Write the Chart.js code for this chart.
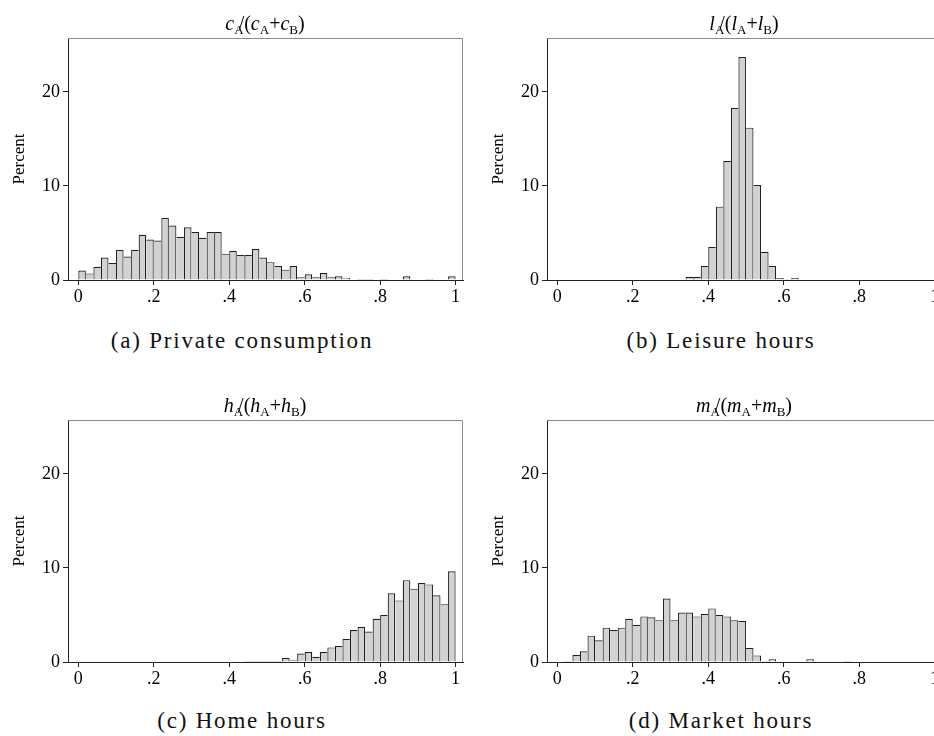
<!DOCTYPE html>
<html>
<head>
<meta charset="utf-8">
<script src="https://cdn.jsdelivr.net/npm/chart.js@4.4.1/dist/chart.umd.min.js"></script>
<style>
  html, body { margin: 0; padding: 0; background: #fff; overflow: hidden; }
  #page { position: relative; width: 934px; height: 736px; }
  canvas { position: absolute; }
  .ttl {
    position: absolute; transform: translateX(-50%); white-space: nowrap;
    font-family: "Liberation Serif", serif; font-size: 20px; line-height: 20px; color: #000;
  }
  .ttl i { font-style: italic; }
  .ttl sub { font-size: 13px; vertical-align: baseline; position: relative; top: 4px; line-height: 0; }
  .ttl .sl { margin-left: -5px; }
  .cap {
    position: absolute; transform: translateX(-50%); white-space: nowrap;
    font-family: "Liberation Serif", serif; font-size: 23px; line-height: 23px; letter-spacing: 1.8px; color: #111;
  }
</style>
</head>
<body>
<div id="page">
  <canvas id="histA" width="470" height="310" style="left:0px;top:0px"></canvas>
  <canvas id="histB" width="470" height="310" style="left:479px;top:0px"></canvas>
  <canvas id="histC" width="470" height="310" style="left:0px;top:382px"></canvas>
  <canvas id="histD" width="470" height="310" style="left:479px;top:382px"></canvas>

  <div class="ttl" style="left:265px;top:13px"><i>c</i><sub>A</sub><span class="sl">/</span>(<i>c</i><sub>A</sub>+<i>c</i><sub>B</sub>)</div>
  <div class="ttl" style="left:744px;top:13px"><i>l</i><sub>A</sub><span class="sl">/</span>(<i>l</i><sub>A</sub>+<i>l</i><sub>B</sub>)</div>
  <div class="ttl" style="left:265px;top:395px"><i>h</i><sub>A</sub><span class="sl">/</span>(<i>h</i><sub>A</sub>+<i>h</i><sub>B</sub>)</div>
  <div class="ttl" style="left:744px;top:395px"><i>m</i><sub>A</sub><span class="sl">/</span>(<i>m</i><sub>A</sub>+<i>m</i><sub>B</sub>)</div>

  <div class="cap" style="left:242px;top:329px">(a) Private consumption</div>
  <div class="cap" style="left:721px;top:329px">(b) Leisure hours</div>
  <div class="cap" style="left:242px;top:709px">(c) Home hours</div>
  <div class="cap" style="left:721px;top:709px">(d) Market hours</div>
</div>
<script>
// bins of width .02 from 0 to 1, values in percent
const binStarts = [0, .02, .04, .06, .08, .10, .12, .14, .16, .18,
                   .20, .22, .24, .26, .28, .30, .32, .34, .36, .38,
                   .40, .42, .44, .46, .48, .50, .52, .54, .56, .58,
                   .60, .62, .64, .66, .68, .70, .72, .74, .76, .78,
                   .80, .82, .84, .86, .88, .90, .92, .94, .96, .98];
const binWidth = 0.02;
const xTicks = [0, 0.2, 0.4, 0.6, 0.8, 1];
const yTicks = [0, 10, 20];

const consumptionPct = [1.0, 0.7, 1.4, 2.4, 1.8, 3.2, 2.5, 3.2, 4.8, 4.3,
                        4.2, 6.6, 5.8, 4.6, 5.6, 5.1, 4.5, 5.1, 5.1, 2.8,
                        3.1, 2.65, 2.65, 3.3, 2.4, 1.9, 1.5, 1.1, 1.5, 0.3,
                        0.6, 0.3, 0.75, 0.3, 0.4, 0.25, 0, 0.1, 0.1, 0,
                        0.1, 0, 0, 0.4, 0, 0, 0.1, 0, 0, 0.4];
const leisurePct = [0, 0, 0, 0, 0, 0, 0, 0, 0, 0,
                    0, 0, 0, 0, 0, 0, 0, 0.35, 0.35, 1.5,
                    3.5, 7.8, 12.65, 18.3, 23.7, 16.2, 10.1, 3.0, 1.5, 0.2,
                    0.07, 0.2, 0, 0, 0, 0, 0, 0, 0, 0,
                    0, 0, 0, 0, 0, 0, 0, 0, 0, 0];
const homePct = [0, 0, 0, 0, 0, 0, 0, 0, 0, 0,
                 0, 0, 0, 0, 0, 0, 0, 0, 0, 0,
                 0, 0, 0.1, 0.1, 0.1, 0.1, 0.1, 0.45, 0.25, 0.9,
                 1.05, 0.55, 1.05, 1.55, 1.7, 2.45, 3.4, 3.75, 3.25, 4.6,
                 5.0, 7.3, 6.55, 8.7, 7.8, 8.4, 8.25, 7.1, 6.15, 9.65];
const marketPct = [0, 0.1, 0.75, 1.15, 2.8, 2.3, 3.65, 3.4, 3.65, 4.6,
                   3.95, 4.85, 4.75, 4.45, 6.75, 4.45, 5.25, 5.25, 4.85, 5.1,
                   5.7, 5.0, 4.85, 4.45, 4.35, 1.5, 0.7, 0.1, 0.3, 0,
                   0, 0, 0, 0.3, 0, 0, 0, 0, 0.1, 0,
                   0, 0, 0, 0, 0, 0, 0, 0, 0, 0];

const serif = 'Liberation Serif';

// grey top and right edges of the plot region
const frameLines = {
  id: 'frameLines',
  afterDraw(chart) {
    const { ctx, chartArea: a } = chart;
    const t = Math.round(a.top) + 0.5, r = Math.round(a.right) - 0.5;
    ctx.save();
    ctx.strokeStyle = '#8a8a8a';
    ctx.lineWidth = 1;
    ctx.beginPath();
    ctx.moveTo(a.left, t);
    ctx.lineTo(r, t);
    ctx.lineTo(r, a.bottom);
    ctx.stroke();
    ctx.restore();
  }
};

function fmtTick(v) {
  if (v === 0) return '0';
  if (v === 1) return '1';
  return String(+v.toFixed(1)).replace('0.', '.');
}

// shared edge between two bars is outlined once, by the taller one
function barBorder(c) {
  const d = c.dataset.data, i = c.dataIndex;
  const y = d[i].y;
  const prev = i > 0 ? d[i - 1].y : 0;
  const next = i < d.length - 1 ? d[i + 1].y : 0;
  return { top: 1.2, left: prev <= y ? 1.2 : 0, right: next < y ? 1.2 : 0, bottom: 0 };
}

function drawHistogram(id, values) {
  const points = binStarts.map((s, i) => ({ x: s + binWidth / 2, y: values[i] }));
  new Chart(document.getElementById(id), {
    type: 'bar',
    data: {
      datasets: [{
        data: points,
        backgroundColor: '#d2d2d2',
        borderColor: '#202020',
        borderWidth: barBorder,
        borderSkipped: 'bottom',
        barPercentage: 1,
        categoryPercentage: 1,
        inflateAmount: 0
      }]
    },
    options: {
      responsive: false,
      animation: false,
      devicePixelRatio: 1,
      layout: { padding: { left: 0, top: 38, right: 7, bottom: 0 } },
      plugins: { legend: { display: false }, tooltip: { enabled: false } },
      scales: {
        x: {
          type: 'linear',
          min: -0.0273,
          max: 1.0196,
          offset: false,
          afterBuildTicks: (s) => { s.ticks = xTicks.map(v => ({ value: v })); },
          afterFit: (s) => { s.height = 30; },
          grid: { offset: false, drawOnChartArea: false, drawTicks: true, tickLength: 5, color: '#222' },
          border: { display: true, color: '#222', width: 1 },
          ticks: {
            padding: 1, maxRotation: 0, autoSkip: false,
            color: '#000', font: { family: serif, size: 18 },
            callback: (v) => fmtTick(v)
          }
        },
        y: {
          min: 0,
          max: 25.73,
          afterBuildTicks: (s) => { s.ticks = yTicks.map(v => ({ value: v })); },
          afterFit: (s) => { s.width = 68; },
          grid: { drawOnChartArea: false, drawTicks: true, tickLength: 5, color: '#222' },
          border: { display: true, color: '#222', width: 1 },
          ticks: { padding: 3, color: '#000', font: { family: serif, size: 18 } },
          title: {
            display: true, text: 'Percent', color: '#000',
            font: { family: serif, size: 17 }, padding: { top: 9, bottom: 0 }
          }
        }
      }
    },
    plugins: [frameLines]
  });
}

drawHistogram('histA', consumptionPct);
drawHistogram('histB', leisurePct);
drawHistogram('histC', homePct);
drawHistogram('histD', marketPct);
</script>
</body>
</html>
